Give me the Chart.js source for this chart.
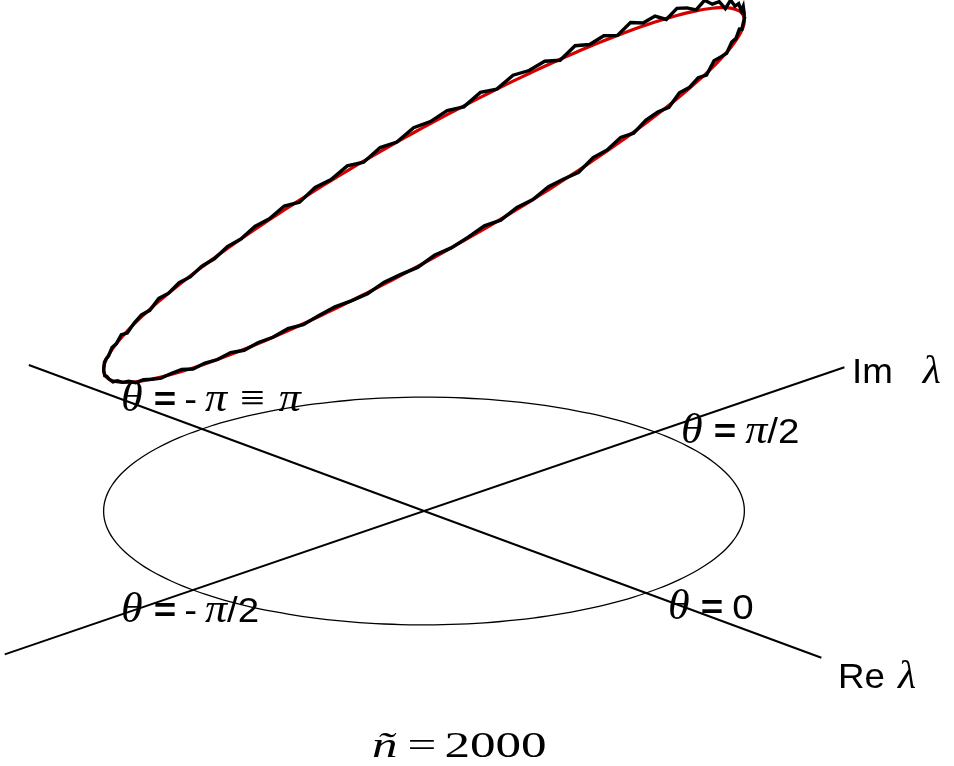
<!DOCTYPE html>
<html>
<head>
<meta charset="utf-8">
<script src="https://cdn.jsdelivr.net/npm/chart.js@4.4.1/dist/chart.umd.min.js"></script>
<style>
html,body{margin:0;padding:0;background:#fff;}
#wrap{width:954px;height:766px;}
</style>
</head>
<body>
<div id="wrap"><canvas id="c" width="954" height="766"></canvas></div>
<script>
// ---- data ----
// sample angles theta (degrees) around the unit circle lambda = e^{i theta}
const thetaStepDeg = 3;
const thetaDeg = [];
for (let t = -180; t <= 180; t += thetaStepDeg) thetaDeg.push(t);

// fitted height model h(theta) = offset + cosCoef*cos(theta) + sinCoef*sin(theta)
const fitOffset = 316;
const fitCos = 154;
const fitSin = 94;

const residuals = [
  1,-1,2,0,3,-1,2,1,-2,3,0,2,-1,1,2,-1,
  1,-1,1,0,-1,1,0,1,-1,1,0,-1,1,2,-1,1,0,2,-1,1,0,2,-1,1,2,0,-1,2,1,
  -1,2,0,1,3,-1,2,0,3,1,-2,3,1,4,-1,3,2,-2,4,1,3,-2,5,2,-1,4,2,6,1,4,3,
  5,9,2,7,3,8,-1,6,4,9,1,5,7,-1,6,3,8,0,5,2,7,-1,5,3,6,0,5,-1,4,2,
  5,0,4,-1,5,1,3,-2,4,1,3,0,2,-1
];

// axes extents (in units of |lambda|)
const reAxisRange = [-1.78, 1.79];
const imAxisRange = [-1.815, 1.82];

// labels: [text, font, gap after]
const thetaLabels = [
  {pos:[-303, 100], parts:[['θ','ti',11],['=','sb',8],['-','s',8],['π','ti',13],['≡','t',14],['π','ti',0]]},
  {pos:[257, 68],   parts:[['θ','ti',11],['=','sb',9],['π','ti',0],['/2','s',0]]},
  {pos:[-303, -111],parts:[['θ','ti',11],['=','sb',8],['-','s',8],['π','ti',0],['/2','s',0]]},
  {pos:[244, -108], parts:[['θ','ti',11],['=','sb',9],['0','s',0]]},
  {pos:[428, 128],  parts:[['Im','a',30],['λ','ai',0]]},
  {pos:[414, -177], parts:[['Re','a',13],['λ','ai',0]]},
  {pos:[-52, -246], parts:[['ñ','ni',10],['=','n',8],['2000','n',0]]}
];

// ---- projection of (Re, Im, height) onto the drawing plane ----
const projA = [222, -82];   // Re unit vector
const projB = [231, 79];    // Im unit vector
function proj(re, im, h) {
  return {x: re*projA[0] + im*projB[0], y: re*projA[1] + im*projB[1] + (h||0)};
}
const rad = d => d*Math.PI/180;

const basePts = thetaDeg.map(t => proj(Math.cos(rad(t)), Math.sin(rad(t)), 0));
const fitPts = thetaDeg.map(t => proj(Math.cos(rad(t)), Math.sin(rad(t)),
  fitOffset + fitCos*Math.cos(rad(t)) + fitSin*Math.sin(rad(t))));
const measPts = thetaDeg.map((t, i) => proj(Math.cos(rad(t)), Math.sin(rad(t)),
  fitOffset + fitCos*Math.cos(rad(t)) + fitSin*Math.sin(rad(t)) + residuals[i % residuals.length]));
const reAxisPts = reAxisRange.map(r => proj(r, 0, 0));
const imAxisPts = imAxisRange.map(r => proj(0, r, 0));

const fonts = {
  ti: ['italic 42px "Liberation Serif"', 1.05],
  t:  ['40px "Liberation Serif"', 1.1],
  s:  ['35px "Liberation Sans"', 1.1],
  sb: ['bold 35px "Liberation Sans"', 1.1],
  a:  ['35px "Liberation Sans"', 1.05],
  ai: ['italic 40px "Liberation Serif"', 1.05],
  ni: ['italic 36px "Liberation Serif"', 1.42],
  n:  ['36px "Liberation Serif"', 1.42]
};

const labelPlugin = {
  id: 'labels',
  afterDatasetsDraw(chart) {
    const {ctx, scales:{x, y}} = chart;
    ctx.save();
    ctx.fillStyle = '#000';
    ctx.textBaseline = 'alphabetic';
    thetaLabels.forEach(l => {
      let px = x.getPixelForValue(l.pos[0]);
      const py = y.getPixelForValue(l.pos[1]);
      l.parts.forEach(([txt, f, gap]) => {
        const [font, sx] = fonts[f];
        ctx.font = font;
        ctx.save();
        ctx.translate(px, py);
        ctx.scale(sx, 1);
        ctx.fillText(txt, 0, 0);
        ctx.restore();
        px += ctx.measureText(txt).width * sx + gap;
      });
    });
    ctx.restore();
  }
};

const lineDs = (data, color, width, tension) => ({
  data, borderColor: color, borderWidth: width, showLine: true,
  pointRadius: 0, fill: false, tension: tension, clip: false
});

new Chart(document.getElementById('c'), {
  type: 'scatter',
  data: {
    datasets: [
      lineDs(basePts, '#000', 1.3, 0.4),
      lineDs(reAxisPts, '#000', 2, 0),
      lineDs(imAxisPts, '#000', 2, 0),
      lineDs(measPts, '#000', 3.4, 0),
      lineDs(fitPts, '#d40000', 3.2, 0.4)
    ]
  },
  options: {
    responsive: false,
    animation: false,
    devicePixelRatio: 1,
    layout: {padding: 0},
    plugins: {legend: {display: false}, tooltip: {enabled: false}},
    scales: {
      x: {type: 'linear', display: false, min: -424, max: 530},
      y: {type: 'linear', display: false, min: -255, max: 511}
    }
  },
  plugins: [labelPlugin]
});
</script>
</body>
</html>
